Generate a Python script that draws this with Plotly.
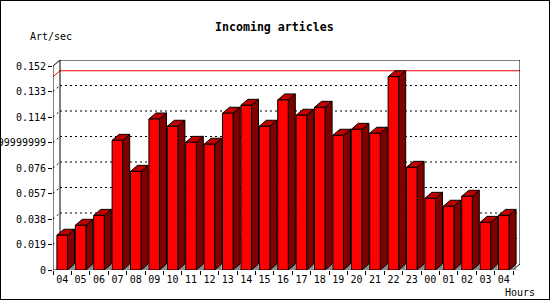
import plotly.graph_objects as go

# ---- data ----
hours = ["04", "05", "06", "07", "08", "09", "10", "11", "12", "13", "14", "15",
         "16", "17", "18", "19", "20", "21", "22", "23", "00", "01", "02", "03", "04"]
rate = [0.0259, 0.0333, 0.0407, 0.0966, 0.0735, 0.1125, 0.1071, 0.0951, 0.0937,
        0.1168, 0.1227, 0.1071, 0.1267, 0.1153, 0.1212, 0.1004, 0.1048, 0.1019,
        0.1440, 0.0765, 0.0534, 0.0475, 0.0549, 0.0355, 0.0407]
ytick_vals = [0, 0.019, 0.038, 0.057, 0.076, 0.095, 0.114, 0.133, 0.152]
ytick_text = ["0", "0.019", "0.038", "0.057", "0.076", "0.094999999999",
              "0.114", "0.133", "0.152"]
title = "Incoming articles"
ytitle = "Art/sec"
xtitle = "Hours"

# ---- geometry (pixel based layout) ----
W, H = 550, 300
n = len(hours)
x_left, x_front_right, x_back_right = 53, 513, 520
y_zero, y_top_front, y_top_back = 270, 66, 60
px_per_cat = (x_front_right - x_left) / n
ymax = ytick_vals[-1]
px_per_val = (y_zero - y_top_front) / ymax
DX = 7 / px_per_cat          # depth offset in category units
DY = 6 / px_per_val          # depth offset in value units
HW = 0.288                   # half bar width (category units)

xr_max = n + DX
yr_max = ymax + DY

FONT = "DejaVu Sans Mono"

fig = go.Figure()

def poly_trace(polys, fill, line_color, lw):
    xs, ys = [], []
    for p in polys:
        for (a, b) in p:
            xs.append(a)
            ys.append(b)
        xs.append(p[0][0]); ys.append(p[0][1])
        xs.append(None); ys.append(None)
    return go.Scatter(x=xs, y=ys, mode="lines", fill="toself", fillcolor=fill,
                      line=dict(color=line_color, width=lw), hoverinfo="skip",
                      showlegend=False)

floor, side, top, front = [], [], [], []
for i, v in enumerate(rate):
    c = i + 0.5
    xl, xr = c - HW, c + HW
    floor.append([(xr, 0), (xr + DX, 0), (xr + DX, DY)])
    side.append([(xr, 0), (xr + DX, DY), (xr + DX, v + DY), (xr, v)])
    top.append([(xl, v), (xl + DX, v + DY), (xr + DX, v + DY), (xr, v)])
    front.append([(xl, 0), (xl, v), (xr, v), (xr, 0)])

fig.add_trace(poly_trace(floor, "#8c8c8c", "rgba(0,0,0,0)", 0))
fig.add_trace(poly_trace(side, "#800000", "black", 1))
fig.add_trace(poly_trace(top, "#c00000", "black", 1))
fig.add_trace(poly_trace(front, "#ff0000", "black", 1))

shapes = []
def seg(x0, y0, x1, y1, color="black", dash="solid", width=1):
    shapes.append(dict(type="line", xref="x", yref="y", x0=x0, y0=y0, x1=x1, y1=y1,
                       line=dict(color=color, width=width, dash=dash), layer="below"))

# dotted grid on back wall + connectors
for v in ytick_vals[1:-1]:
    seg(0, v, DX, v + DY, dash="2px,3px")
    seg(DX, v + DY, xr_max, v + DY, dash="2px,3px")
# max line
m = max(rate)
seg(0, m, DX, m + DY, color="red")
seg(DX, m + DY, xr_max, m + DY, color="red")
# frame
seg(0, 0, 0, ymax)
seg(0, ymax, DX, yr_max)
seg(DX, yr_max, xr_max, yr_max)
seg(DX, DY, DX, yr_max)
seg(xr_max, DY, xr_max, yr_max)
seg(0, 0, n, 0)
seg(n, 0, xr_max, DY)
# outer border of the image
shapes.append(dict(type="rect", xref="paper", yref="paper", x0=0, y0=0, x1=1, y1=1,
                   line=dict(color="black", width=2), layer="above"))

fig.update_layout(
    width=W, height=H,
    margin=dict(l=0, r=0, t=0, b=0, autoexpand=False),
    paper_bgcolor="white", plot_bgcolor="white",
    showlegend=False,
    shapes=shapes,
    xaxis=dict(domain=[x_left / W, x_back_right / W], range=[0, xr_max],
               automargin=False,
               tickmode="array", tickvals=[i + 0.5 for i in range(n)], ticktext=hours,
               ticks="outside", ticklen=0, tickcolor="rgba(0,0,0,0)",
               minor=dict(tickmode="array", tickvals=list(range(n + 1)), ticks="outside",
                          ticklen=4, tickcolor="black", tickwidth=1, showgrid=False),
               showgrid=False, zeroline=False, showline=False,
               tickfont=dict(family=FONT, size=10, color="black")),
    yaxis=dict(domain=[(H - y_zero) / H, (H - y_top_back) / H], range=[0, yr_max],
               automargin=False,
               tickmode="array", tickvals=ytick_vals, ticktext=ytick_text,
               ticks="outside", ticklen=4, tickcolor="black", tickwidth=1,
               showgrid=False, zeroline=False, showline=False,
               tickfont=dict(family=FONT, size=10, color="black")),
    annotations=[
        dict(text="<b>" + title + "</b>", xref="paper", yref="paper", x=274 / W, y=1 - 27 / H,
             xanchor="center", yanchor="middle", showarrow=False,
             font=dict(family=FONT, size=11.6, color="black")),
        dict(text=ytitle, xref="paper", yref="paper", x=50.5 / W, y=1 - 37 / H,
             xanchor="center", yanchor="middle", showarrow=False,
             font=dict(family=FONT, size=10, color="black")),
        dict(text=xtitle, xref="paper", yref="paper", x=519.5 / W, y=1 - 292 / H,
             xanchor="center", yanchor="middle", showarrow=False,
             font=dict(family=FONT, size=10, color="black")),
    ],
)

fig.write_html("out.html")
